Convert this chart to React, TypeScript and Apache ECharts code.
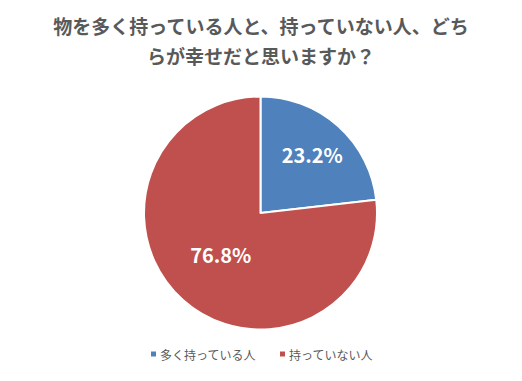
import React, { useEffect, useRef } from "react";
import * as echarts from "echarts";

const titleLines = ["物を多く持っている人と、持っていない人、どち", "らが幸せだと思いますか？"];
const categories = ["多く持っている人", "持っていない人"];
const values = [23.2, 76.8];
const colors = ["#4F81BD", "#C0504D"];
const labelOffsets: [number, number][] = [[11, -13], [1, -4]];

export default function App() {
  const ref = useRef<HTMLDivElement>(null);
  useEffect(() => {
    document.body.style.margin = "0";
    const chart = echarts.init(ref.current!, null, { renderer: "svg" });
    const font = "'Noto Sans CJK JP', 'Noto Sans', sans-serif";
    chart.setOption({
      animation: false,
      backgroundColor: "#ffffff",
      title: {
        text: titleLines.join("\n"),
        left: "center",
        top: 10,
        padding: 0,
        textStyle: {
          fontFamily: font,
          fontSize: 19,
          fontWeight: "bold",
          color: "#595959",
          lineHeight: 30,
        },
      },
      legend: {
        bottom: 16,
        left: "center",
        itemWidth: 7,
        itemHeight: 7,
        itemGap: 22,
        icon: "rect",
        data: categories,
        textStyle: { fontFamily: font, fontSize: 12, color: "#595959", padding: [0, 0, 0, -2] },
      },
      series: [
        {
          type: "pie",
          center: [260.5, 213],
          radius: 116.5,
          startAngle: 90,
          clockwise: true,
          itemStyle: { borderColor: "#ffffff", borderWidth: 2 },
          label: {
            show: true,
            position: "inside",
            formatter: (p: any) => p.value.toFixed(1) + "%",
            color: "#ffffff",
            fontFamily: font,
            fontSize: 20,
            fontWeight: "bold",
          },
          labelLine: { show: false },
          emphasis: { disabled: true },
          data: categories.map((name, i) => ({
            name,
            value: values[i],
            itemStyle: { color: colors[i] },
            label: { offset: labelOffsets[i] },
          })),
        },
      ],
    });
    return () => chart.dispose();
  }, []);
  return <div ref={ref} style={{ width: 522, height: 381 }} />;
}
